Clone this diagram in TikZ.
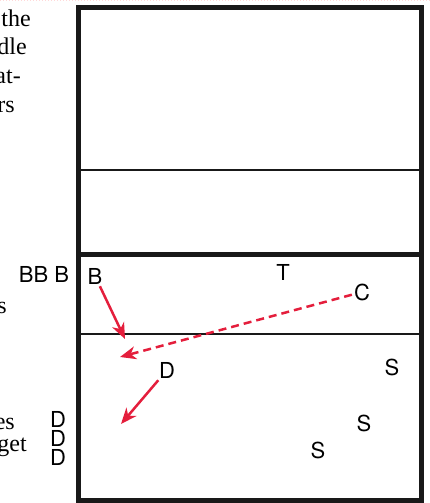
\documentclass[tikz,border=0pt]{standalone}
\usepackage{fontspec}
\setmainfont{Liberation Serif}
\setsansfont{TeX Gyre Heros}
\usetikzlibrary{arrows.meta}
\definecolor{playred}{RGB}{228,30,60}

\begin{document}
\begin{tikzpicture}[x=1pt, y=-1pt,
        player/.style={font=\sffamily\fontsize{22}{22}\selectfont, inner sep=2pt},
        booktext/.style={font=\rmfamily\fontsize{24}{28}\selectfont, anchor=base east, inner sep=0pt},
        move/.style={playred, line width=2.5pt, -{Stealth[length=16pt, width=13pt, inset=5pt]}},
        courtline/.style={line width=2.5pt, black!90}]
    \useasboundingbox (0,0) rectangle (430,503);
    \draw[pink!60, dotted, line width=1pt] (0,1) -- (430,1);
    % text of the page, cut at the margin
    \node[booktext] (w1) at (31,27) {the};
    \node[booktext] (w2) at (27,55) {dle};
    \node[booktext] (w3) at (21,83) {at-};
    \node[booktext] (w4) at (15,112) {rs};
    \node[booktext] (w5) at (7,313) {s};
    \node[booktext] (w6) at (15,429) {es};
    \node[booktext] (w7) at (27,451) {get};
    % court
    \draw[line width=5pt, black!90] (78.5,7.5) rectangle (421.5,500.5);
    \draw[courtline] (78.5,170) -- (421.5,170);
    \draw[line width=5pt, black!90] (78.5,254) -- (421.5,254);
    \draw[courtline] (78.5,334) -- (421.5,334);
    % players
    \node[player] (bench) at (44,274) {BB B};
    \foreach \y [count=\i] in {419,438,457} {
        \node[player, inner sep=0pt] (d\i) at (58,\y) {D};
    }
    \node[player] (b) at (95,276) {B};
    \node[player] (t) at (283,272) {T};
    \node[player] (c) at (362,292) {C};
    \node[player] (d) at (167,370) {D};
    \node[player] (s1) at (392,367) {S};
    \node[player] (s2) at (364,423) {S};
    \node[player] (s3) at (318,450) {S};
    \coordinate (bhit) at (125,339);
    \coordinate (cset) at (120,357);
    \coordinate (dhit) at (121,424);
    \draw[move] (b) -- (bhit);
    \draw[move, dash pattern=on 8pt off 5pt] (c) -- (cset);
    \draw[move] (d) -- (dhit);
\end{tikzpicture}
\end{document}
